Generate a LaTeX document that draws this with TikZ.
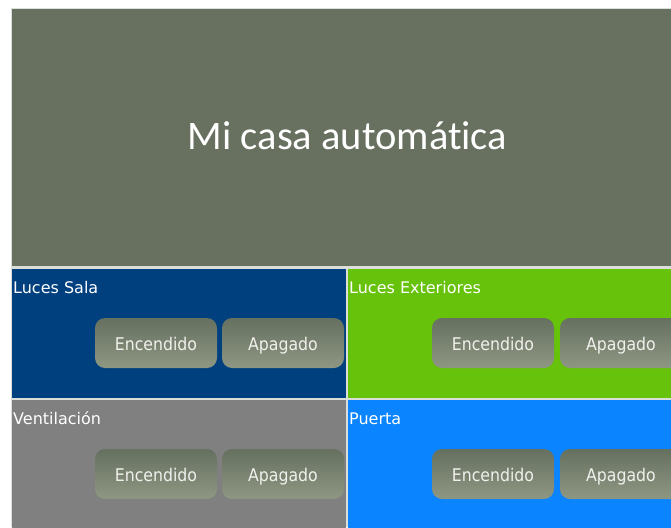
\documentclass[tikz,border=0pt]{standalone}
\usepackage{fontspec}
\setmainfont{DejaVu Sans}
\newfontfamily\titlefont[Ligatures=NoCommon]{Carlito}
\newfontfamily\btnfont{DejaVu Sans Condensed}
\definecolor{hdr}{HTML}{687060}
\definecolor{sala}{HTML}{00407F}
\definecolor{exter}{HTML}{66C20A}
\definecolor{vent}{HTML}{808080}
\definecolor{puerta}{HTML}{0A84FF}
\definecolor{gridline}{HTML}{DCDEDA}
\definecolor{btntop}{HTML}{667060}
\definecolor{btnbot}{HTML}{8E9782}
\definecolor{btntext}{HTML}{F0F0EC}
\tikzset{
  panel/.style={anchor=north west, inner sep=0pt, outer sep=0pt, draw=none,
    minimum width=334pt, minimum height=129pt},
  lbl/.style={anchor=base west, inner sep=0pt, text=white, font=\fontsize{16}{16}\selectfont},
  btn/.style={anchor=north west, inner sep=0pt, outer sep=0pt, rounded corners=10pt,
    minimum width=122pt, minimum height=50pt, top color=btntop, bottom color=btnbot,
    text height=15pt, text depth=0pt,
    text=btntext, font=\btnfont\fontsize{17.5}{17.5}\selectfont}
}
\begin{document}
\begin{tikzpicture}[x=1pt,y=-1pt]
\useasboundingbox (0,0) rectangle (671,527);
\begin{scope}
\clip (0,0) rectangle (671,527);
\fill[gridline] (11,8) rectangle (685,527);
\node[panel, fill=hdr, minimum width=671pt, minimum height=257pt] (header) at (12,9) {};
\node[anchor=base, inner sep=0pt, text=white, font=\titlefont\fontsize{40.5}{40.5}\selectfont] (title) at (347.5,149) {Mi casa automática};
% row 1
\node[panel, fill=sala] (sala) at (12,269) {};
\node[panel, fill=exter, minimum width=335pt] (exter) at (348,269) {};
% row 2
\node[panel, fill=vent, minimum height=130pt] (vent) at (12,400) {};
\node[panel, fill=puerta, minimum width=335pt, minimum height=130pt] (puerta) at (348,400) {};
% labels
\node[lbl] (lsala) at (13,293) {Luces Sala};
\node[lbl] (lexter) at (349,293) {Luces Exteriores};
\node[lbl] (lvent) at (13,424) {Ventilación};
\node[lbl] (lpuerta) at (349,424) {Puerta};
% buttons
\node[btn] (salaon) at (95,318) {Encendido};
\node[btn] (salaoff) at (222,318) {Apagado};
\node[btn] (exteron) at (432,318) {Encendido};
\node[btn] (exteroff) at (560,318) {Apagado};
\node[btn] (venton) at (95,449) {Encendido};
\node[btn] (ventoff) at (222,449) {Apagado};
\node[btn] (puertaon) at (432,449) {Encendido};
\node[btn] (puertaoff) at (560,449) {Apagado};
\end{scope}
\end{tikzpicture}
\end{document}
